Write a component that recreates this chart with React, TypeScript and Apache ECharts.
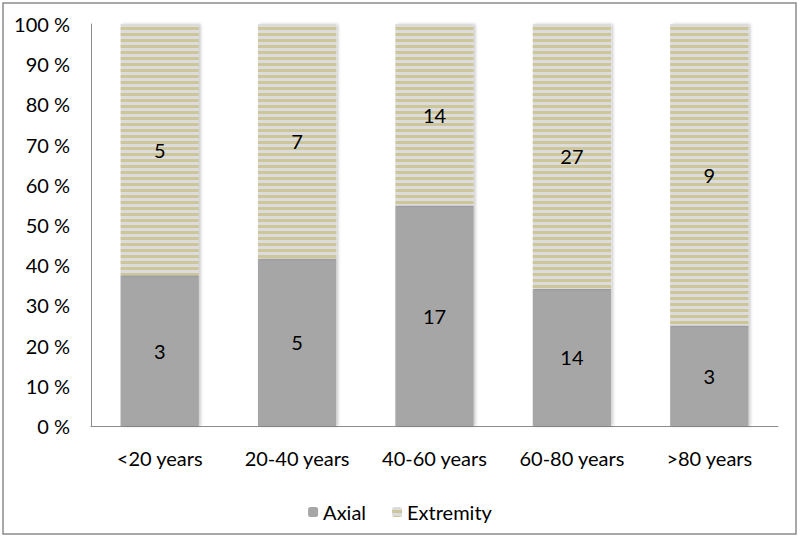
import React, { useEffect, useRef } from "react";
import * as echarts from "echarts";

const categories = ["<20 years", "20-40 years", "40-60 years", "60-80 years", ">80 years"];
const axialCounts = [3, 5, 17, 14, 3];
const extremityCounts = [5, 7, 14, 27, 9];
const yTicks = [0, 10, 20, 30, 40, 50, 60, 70, 80, 90, 100];

function makeStripes(): HTMLCanvasElement {
  const c = document.createElement("canvas");
  c.width = 6;
  c.height = 6;
  const ctx = c.getContext("2d")!;
  ctx.fillStyle = "#dcdcdf";
  ctx.fillRect(0, 0, 6, 6);
  ctx.fillStyle = "#cdc699";
  ctx.fillRect(0, 3, 6, 3);
  return c;
}

export default function App() {
  const ref = useRef<HTMLDivElement>(null);
  useEffect(() => {
    if (!ref.current) return;
    const chart = echarts.init(ref.current, null, { renderer: "svg" });
    const totals = axialCounts.map((a, i) => a + extremityCounts[i]);
    const axialPct = axialCounts.map((a, i) => (a / totals[i]) * 100);
    const extPct = extremityCounts.map((e, i) => (e / totals[i]) * 100);
    const font = "Lato, 'Open Sans', sans-serif";
    const fs = 20;
    const stripes = makeStripes();
    chart.setOption({
      animation: false,
      textStyle: { fontFamily: font },
      graphic: [
        {
          type: "rect",
          shape: { x: 3, y: 3, width: 793, height: 531 },
          style: { fill: "none", stroke: "#8c8c8c", lineWidth: 1.5 },
          silent: true,
        },
      ],
      grid: { left: 91, right: 22, top: 24, bottom: 111, containLabel: false },
      legend: {
        bottom: 10,
        left: "center",
        itemWidth: 10,
        itemHeight: 10,
        itemGap: 26,
        textStyle: { fontSize: fs, color: "#000", fontFamily: font },
        data: ["Axial", "Extremity"],
      },
      xAxis: {
        type: "category",
        data: categories,
        axisLine: { lineStyle: { color: "#8c8c8c", width: 1 } },
        axisTick: { show: false },
        axisLabel: { fontSize: fs, color: "#000", margin: 22, fontFamily: font },
      },
      yAxis: {
        type: "value",
        min: 0,
        max: 100,
        interval: 10,
        axisLine: { show: true, lineStyle: { color: "#8c8c8c", width: 1 } },
        axisTick: { show: false },
        splitLine: { show: false },
        axisLabel: {
          fontSize: fs,
          color: "#000",
          margin: 21,
          fontFamily: font,
          formatter: (v: number) => (yTicks.includes(v) ? v + " %" : ""),
        },
      },
      series: [
        {
          name: "Axial",
          type: "bar",
          stack: "total",
          barCategoryGap: "43%",
          data: axialPct,
          itemStyle: {
            color: "#a6a6a6",
            shadowColor: "rgba(0,0,0,0.2)",
            shadowBlur: 3,
            shadowOffsetX: 2,
          },
          label: {
            show: true,
            position: "inside",
            color: "#000",
            fontSize: fs,
            fontFamily: font,
            formatter: (p: any) => String(axialCounts[p.dataIndex]),
          },
        },
        {
          name: "Extremity",
          type: "bar",
          stack: "total",
          barCategoryGap: "43%",
          data: extPct,
          itemStyle: {
            color: { image: stripes, repeat: "repeat" },
            shadowColor: "rgba(0,0,0,0.2)",
            shadowBlur: 3,
            shadowOffsetX: 2,
          },
          label: {
            show: true,
            position: "inside",
            color: "#000",
            fontSize: fs,
            fontFamily: font,
            formatter: (p: any) => String(extremityCounts[p.dataIndex]),
          },
        },
      ],
    });
    return () => chart.dispose();
  }, []);
  return (
    <div
      ref={ref}
      style={{ position: "absolute", left: 0, top: 0, width: 800, height: 537, background: "#fff" }}
    />
  );
}
